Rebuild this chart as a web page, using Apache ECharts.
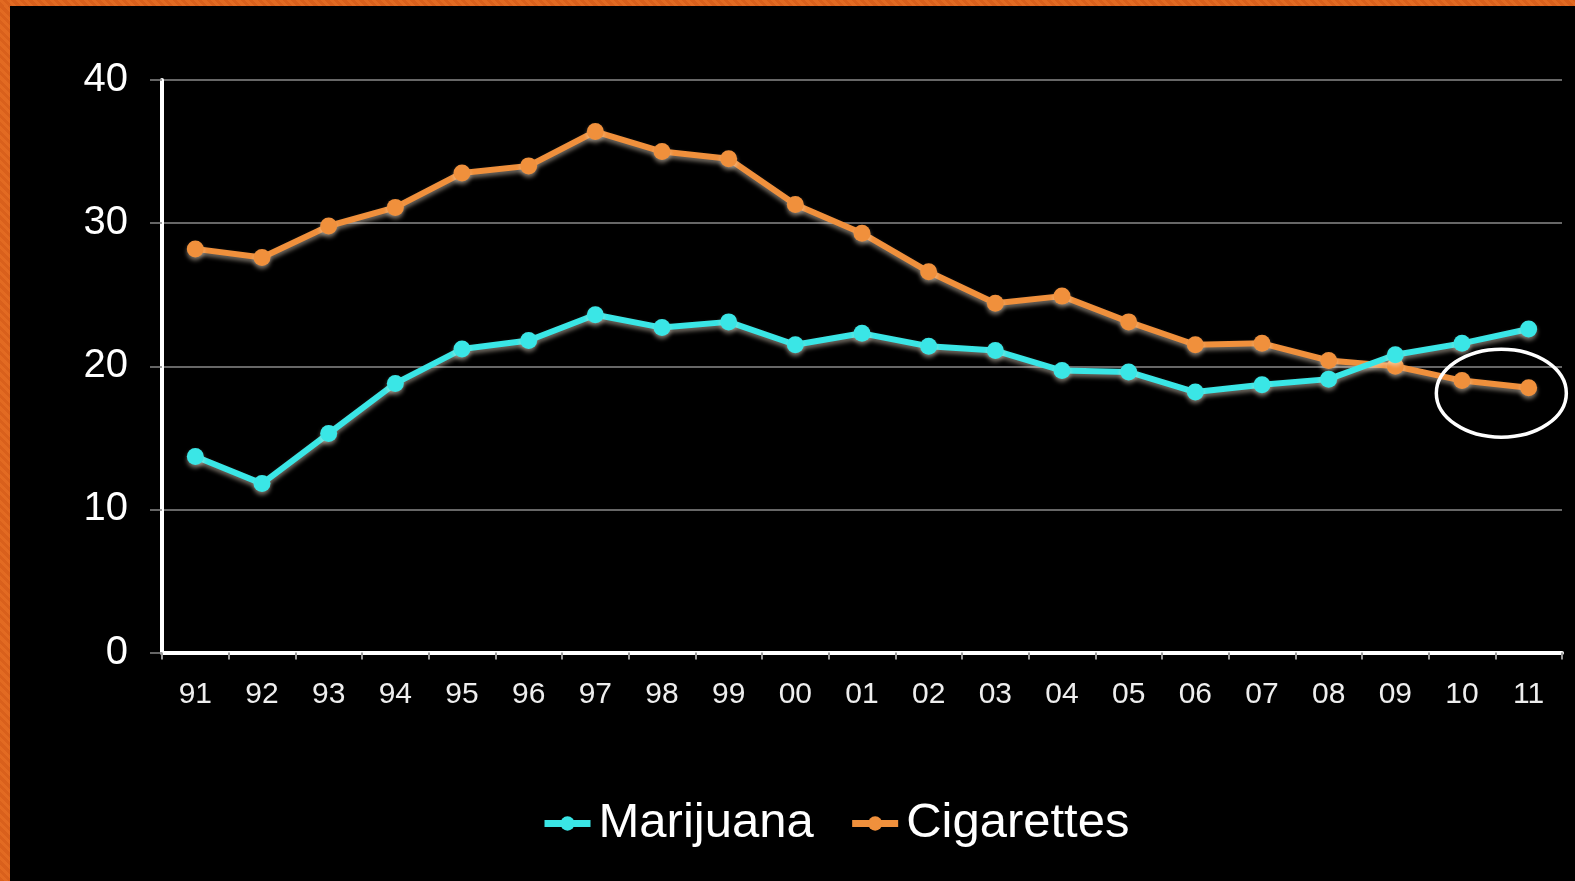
<!DOCTYPE html>
<html>
<head>
<meta charset="utf-8">
<script src="https://cdn.jsdelivr.net/npm/echarts@6/dist/echarts.min.js"></script>
<style>
  html, body { margin: 0; padding: 0; background: #000; width: 1575px; height: 881px; overflow: hidden; }
  #chart { position: absolute; left: 0; top: 0; width: 1575px; height: 881px; }
  .bl { position: absolute; left: 0; top: 0; width: 10px; height: 881px; z-index: 5;
        background: repeating-linear-gradient(45deg, #d9601c 0 3px, #e26a22 3px 6px); }
  .bt { position: absolute; left: 0; top: 0; width: 1575px; height: 6px; z-index: 5;
        background: repeating-linear-gradient(45deg, #d9601c 0 3px, #e26a22 3px 6px); }
</style>
</head>
<body>
<div id="chart"></div>
<div class="bl"></div>
<div class="bt"></div>
<script>
const years = ['91','92','93','94','95','96','97','98','99','00','01','02','03','04','05','06','07','08','09','10','11'];
const marijuana = [13.7, 11.8, 15.3, 18.8, 21.2, 21.8, 23.6, 22.7, 23.1, 21.5, 22.3, 21.4, 21.1, 19.7, 19.6, 18.2, 18.7, 19.1, 20.8, 21.6, 22.6];
const cigarettes = [28.2, 27.6, 29.8, 31.1, 33.5, 34.0, 36.4, 35.0, 34.5, 31.3, 29.3, 26.6, 24.4, 24.9, 23.1, 21.5, 21.6, 20.4, 20.0, 19.0, 18.5];
const yTicks = { min: 0, max: 40, interval: 10 };
const circledYears = ['10', '11'];

const font = "'Liberation Sans', Arial, sans-serif";
const chart = echarts.init(document.getElementById('chart'));
const glow = { shadowColor: 'rgba(255,240,220,0.45)', shadowBlur: 4, shadowOffsetY: 3 };

chart.setOption({
  backgroundColor: '#000',
  animation: false,
  grid: { left: 162, top: 80, right: 13, bottom: 228.5, containLabel: false },
  legend: {
    left: 536, top: 794,
    itemWidth: 46, itemHeight: 18, itemGap: 35,
    lineStyle: { width: 7 },
    textStyle: { color: '#fff', fontSize: 49, fontFamily: font, padding: [0, 0, 0, 3] },
    data: ['Marijuana', 'Cigarettes']
  },
  xAxis: {
    type: 'category',
    data: years,
    boundaryGap: true,
    axisLine: { show: true, lineStyle: { color: '#fff', width: 4 } },
    axisTick: { show: true, length: 7, lineStyle: { color: '#999', width: 2 } },
    axisLabel: { color: '#eee', fontSize: 30, fontFamily: font, margin: 27 },
    splitLine: { show: false }
  },
  yAxis: {
    type: 'value',
    min: yTicks.min, max: yTicks.max, interval: yTicks.interval,
    axisLine: { show: true, lineStyle: { color: '#fff', width: 4 } },
    axisTick: { show: true, length: 12, lineStyle: { color: '#888', width: 1.5 } },
    axisLabel: { color: '#fff', fontSize: 40, fontFamily: font, margin: 34 },
    splitLine: { show: true, lineStyle: { color: '#8a8a8a', width: 1.5 } }
  },
  series: [
    {
      name: 'Marijuana', type: 'line', data: marijuana,
      symbol: 'circle', symbolSize: 17, z: 3,
      itemStyle: Object.assign({ color: '#3ae6e6' }, glow),
      lineStyle: Object.assign({ color: '#3ae6e6', width: 6 }, glow)
    },
    {
      name: 'Cigarettes', type: 'line', data: cigarettes,
      symbol: 'circle', symbolSize: 17, z: 2,
      itemStyle: Object.assign({ color: '#f0903c' }, glow),
      lineStyle: Object.assign({ color: '#f0903c', width: 6 }, glow)
    }
  ]
});

// Ellipse annotation around the last cigarette points, located via the chart's scales
const pts = circledYears.map(y => {
  const i = years.indexOf(y);
  return chart.convertToPixel({ seriesIndex: 1 }, [i, cigarettes[i]]);
});
const cx = (pts[0][0] + pts[1][0]) / 2 + 6;
const cy = (pts[0][1] + pts[1][1]) / 2 + 9;
chart.setOption({
  graphic: [{
    type: 'ellipse', z: 10,
    shape: { cx: cx, cy: cy, rx: 65, ry: 44 },
    style: { fill: 'none', stroke: '#fff', lineWidth: 3.5 }
  }]
});
</script>
</body>
</html>
